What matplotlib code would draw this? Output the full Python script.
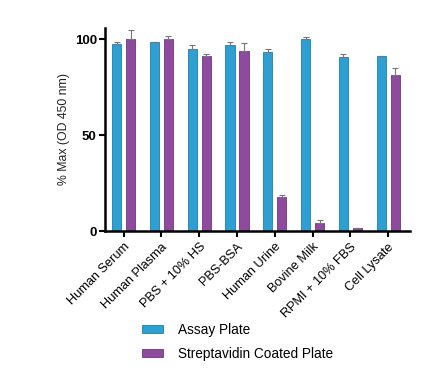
import numpy as np
import matplotlib.pyplot as plt
from matplotlib.patches import Patch

samples = ["Human Serum", "Human Plasma", "PBS + 10% HS", "PBS-BSA",
           "Human Urine", "Bovine Milk", "RPMI + 10% FBS", "Cell Lysate"]
assay = [97.4, 98.4, 95.1, 96.9, 93.2, 100.0, 90.6, 91.2]
assay_err = [1.4, 0.3, 2.1, 2.0, 1.9, 1.4, 1.9, 0.3]
strep = [100.0, 100.0, 91.2, 94.2, 17.8, 4.4, 1.6, 81.2]
strep_err = [5.0, 2.0, 1.3, 4.1, 1.2, 1.2, 0.2, 3.8]

blue = "#2e9fd3"
purple = "#8e4a9c"

plt.rcParams['font.family'] = ['Liberation Sans', 'DejaVu Sans']

fig = plt.figure(figsize=(4.29, 3.77), dpi=100)
ax = fig.add_axes([0.245, 0.387, 0.711, 0.539])

x = np.arange(len(samples))
w = 0.24
off = 0.185
ekw = dict(ecolor="#777777", elinewidth=0.8, capsize=2.5, capthick=0.8)
ax.bar(x - off, assay, w, color=blue, edgecolor="#1f7fae", linewidth=0.6,
       yerr=[np.zeros(len(x)), assay_err], error_kw=ekw)
ax.bar(x + off, strep, w, color=purple, edgecolor="#6e3580", linewidth=0.6,
       yerr=[np.zeros(len(x)), strep_err], error_kw=ekw)

ax.set_xlim(-0.49, 7.58)
ax.set_ylim(0, 106)
ax.set_yticks([0, 50, 100])
ax.set_yticklabels(["0", "50", "100"], fontweight="bold", fontsize=9.5)
ax.set_xticks(x)
ax.set_xticklabels(samples, rotation=45, ha="right", rotation_mode="anchor", fontsize=9.2)
ax.tick_params(axis="both", direction="out", width=1.5, length=4, color="black")
ax.tick_params(axis="x", pad=3)
ax.tick_params(axis="y", pad=2)
for s in ["top", "right"]:
    ax.spines[s].set_visible(False)
for s in ["left", "bottom"]:
    ax.spines[s].set_linewidth(1.8)
ax.set_ylabel("% Max (OD 450 nm)", fontsize=8.8, color="#222222", labelpad=3)

handles = [Patch(facecolor=blue, edgecolor="#1f7fae", linewidth=0.6),
           Patch(facecolor=purple, edgecolor="#6e3580", linewidth=0.6)]
fig.legend(handles, ["Assay Plate", "Streptavidin Coated Plate"],
           loc="upper left", bbox_to_anchor=(0.331, 0.144), frameon=False,
           fontsize=9.8, handlelength=1.55, handleheight=0.6, handletextpad=1.1,
           labelspacing=0.75, borderpad=0, borderaxespad=0)

fig.savefig("out.png", dpi=100)
